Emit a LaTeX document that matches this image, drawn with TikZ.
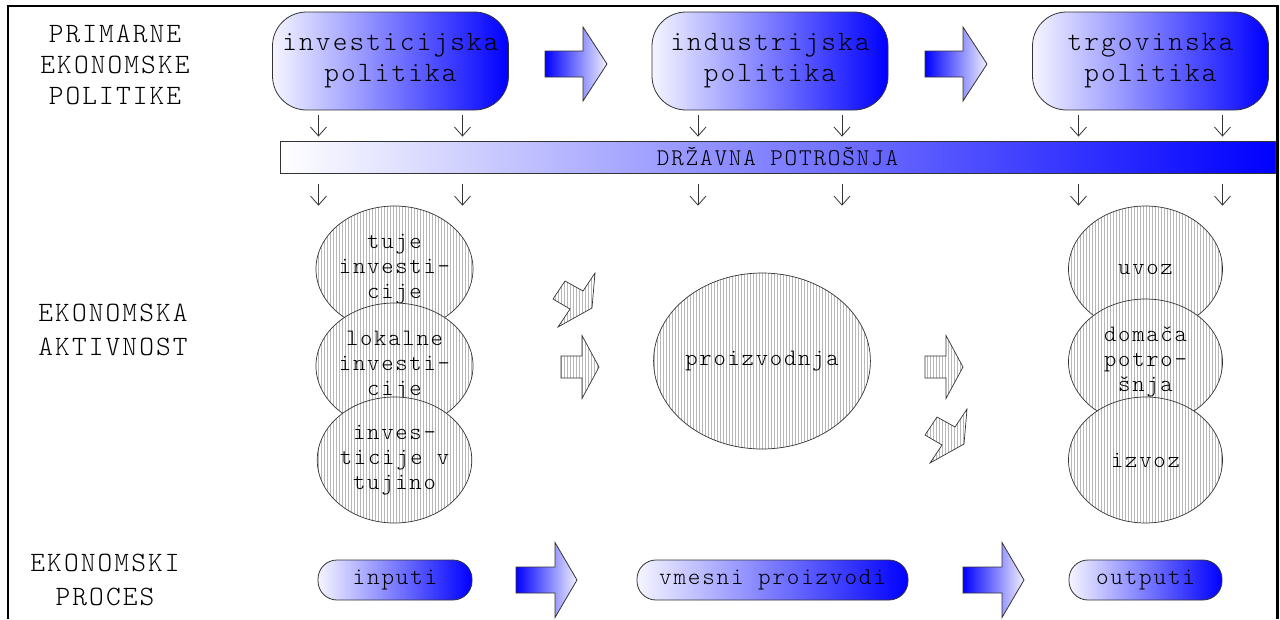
\documentclass[tikz,border=0pt]{standalone}
\usepackage{fontspec}
\setmainfont{lmmonolt10-regular.otf}[LetterSpace=7.5]
\usetikzlibrary{shapes.geometric,arrows.meta,patterns}

\tikzset{
  pics/fatarrow/.style args={#1/#2/#3/#4/#5}{code={
    \path[#5] (0,-#2) -- (#1-#4,-#2) -- (#1-#4,-#3) -- (#1,0)
      -- (#1-#4,#3) -- (#1-#4,#2) -- (0,#2) -- cycle;
  }},
  pics/bentarrow/.style={code={
    \path[hatched] (0,0) -- (34,-19) -- (37,-54) -- (25,-36) -- (7,-46)
      -- (-5,-28) -- (12,-18) -- cycle;
  }}
}

\begin{document}
\begin{tikzpicture}[x=1pt, y=-1pt,
    policy/.style={draw=black!80, line width=0.8pt, rounded corners=34pt,
                   left color=blue!4, right color=blue, minimum width=236pt,
                   minimum height=98pt, align=center, inner sep=0pt,
                   font=\fontsize{28}{31}\selectfont},
    stage/.style={draw=black!80, line width=0.8pt, rounded corners=19pt,
                  left color=blue!4, right color=blue, minimum height=40pt,
                  inner sep=0pt, font=\fontsize{24}{26}\selectfont},
    hatched/.style={draw=black!80, line width=0.7pt, preaction={fill=white},
                    pattern=vertical lines, pattern color=black!28},
    activity/.style={hatched, ellipse, minimum width=154pt, minimum height=126pt,
                     inner sep=0pt, align=center,
                     font=\fontsize{23.5}{25}\selectfont},
    rowlabel/.style={align=center, font=\fontsize{28}{34}\selectfont},
    blockfill/.style={draw=black!80, line width=0.8pt, left color=blue, right color=blue!6},
    feed/.style={-{Straight Barb[length=9pt,width=16pt]}, line width=0.8pt, draw=black!80}
]
\useasboundingbox (0,0) rectangle (1280,619);
\draw[line width=2.5pt] (8,619) -- (8,6) -- (1277.5,6) -- (1277.5,619);

% row labels
\node[rowlabel, font=\fontsize{28}{31}\selectfont] (lprim) at (115,65) {PRIMARNE\\EKONOMSKE\\POLITIKE};
\node[rowlabel] (lakt) at (113,330) {EKONOMSKA\\AKTIVNOST};
\node[rowlabel] (lproc) at (105,580) {EKONOMSKI\\PROCES};

% policies
\node[policy] (inv) at (390.5,61) {investicijska\\politika};
\node[policy] (ind) at (770,61) {industrijska\\politika};
\node[policy] (trg) at (1150.5,61) {trgovinska\\politika};

\node[draw=black!80, line width=0.8pt, left color=white, right color=blue,
      minimum width=995pt, minimum height=32pt, inner sep=0pt,
      font=\fontsize{24}{26}\selectfont] (bar) at (777.5,157) {DRŽAVNA POTROŠNJA};

% activity
\node[activity] (tuj) at (394.5,269) {tuje\\investi-\\cije};
\node[activity] (lok) at (394.5,366) {lokalne\\investi-\\cije};
\node[activity] (itu) at (394.5,460) {inves-\\ticije v\\tujino};
\node[activity, minimum width=206pt, minimum height=176pt] (pro) at (762,361) {proizvodnja};
\node[activity] (uvo) at (1145.5,269) {uvoz};
\node[activity] (dom) at (1145.5,362) {domača\\potro-\\šnja};
\node[activity] (izv) at (1145.5,460) {izvoz};

% process
\node[stage, minimum width=154pt] (inp) at (395,580) {inputi};
\node[stage, minimum width=271pt] (vme) at (772.5,580) {vmesni proizvodi};
\node[stage, minimum width=153pt] (outp) at (1145.5,580) {outputi};

\foreach \b in {inv,ind,trg}
  \foreach \o in {-72,72} {
    \draw[feed, shorten <=5pt, shorten >=4pt] ([xshift=\o pt]\b.south) -- ([xshift=\o pt]\b.south |- bar.north);
    \draw[feed, shorten <=11pt] ([xshift=\o pt]\b.south |- bar.south) -- ([xshift=\o pt]\b.south |- tuj.north);
  }

\pic at (545,64) {fatarrow=62/13/37/24/blockfill};
\pic at (925,64) {fatarrow=62/13/37/24/blockfill};
\pic at (516,580) {fatarrow=61/13/37.5/22/blockfill};
\pic at (963,580) {fatarrow=61/13/37.5/22/blockfill};
\pic at (561,367) {fatarrow=38/11/31.5/17/hatched};
\pic at (925,367) {fatarrow=38/11/31.5/17/hatched};
\pic at (558,327) {bentarrow};
\pic at (930,463) {bentarrow};
\end{tikzpicture}
\end{document}
